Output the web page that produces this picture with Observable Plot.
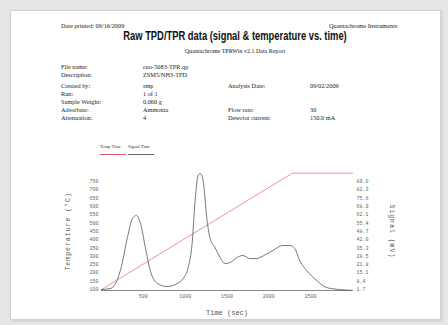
<!DOCTYPE html>
<html>
<head>
<meta charset="utf-8">
<script src="https://cdn.jsdelivr.net/npm/d3@7"></script>
<script src="https://cdn.jsdelivr.net/npm/@observablehq/plot@0.6"></script>
<style>
  html, body { margin: 0; padding: 0; background: #e7e7e7; }
  #page {
    position: absolute; left: 10px; top: 10px; width: 429px; height: 308px;
    background: #fff; border: 1px solid #d2d2d2; box-shadow: 1px 1px 3px rgba(0,0,0,0.12);
  }
  .t { position: absolute; white-space: nowrap; font-family: "Liberation Serif", serif; color: #222; }
  .small { font-size: 6.3px; }
  #title { font-family: "Liberation Sans", sans-serif; font-weight: bold;
           font-size: 12.5px; color: #111; left: 0; width: 470px; text-align: center; top: 29px;
           transform: scaleX(0.75); transform-origin: 235px 0; }
  #subtitle { font-size: 6px; left: 0; width: 470px; text-align: center; top: 48px; }
  #chart { position: absolute; left: 40px; top: 165px; }
</style>
</head>
<body>
<div id="page"></div>
<div id="texts"></div>
<div id="chart"></div>
<script>
// Report header
const printed = "Date printed: 09/16/2009";
const vendor = "Quantachrome Instruments";
const titleText = "Raw TPD/TPR data (signal & temperature vs. time)";
const subtitleText = "Quantachrome TPRWin v2.1 Data Report";

// Sample information block
const infoLabels = ["File name:", "Description:", "Created by:", "Run:", "Sample Weight:", "Adsorbate:", "Attenuation:"];
const infoValues = ["cuo-5083-TPR.qp", "ZSM5/NH3-TPD", "smp", "1 of 1", "0.060 g", "Ammonia", "4"];
const infoRows = [67, 75, 86, 94, 102, 110, 118];
const sideLabels = ["Analysis Date:", "Flow rate:", "Detector current:"];
const sideValues = ["09/02/2009", "30", "150.0 mA"];
const sideRows = [86, 110, 118];

// Legend entries
const legendNames = ["Temp Time", "Signal Time"];
const legendColors = ["#e0566a", "#666"];

// Time axis (s)
const xTicks = [500, 1000, 1500, 2000, 2500];

// Temperature program (°C)
const tempTime = [0, 2280, 3000];
const tempValue = [100, 800, 800];
const leftTicks = [100, 150, 200, 250, 300, 350, 400, 450, 500, 550, 600, 650, 700, 750];

// Detector signal (mV)
const sigTime = [0, 107, 226, 310, 369, 417, 464, 524, 583, 667, 786, 905, 976, 1036, 1083, 1119, 1155, 1179,
                 1214, 1262, 1298, 1357, 1417, 1476, 1536, 1619, 1690, 1774, 1857, 1893, 2048, 2167, 2250, 2310,
                 2369, 2452, 2571, 2690, 2845, 3000];
const sigValue = [1.7, 2.5, 17.1, 43.7, 59.1, 61.5, 55.8, 35.6, 17.1, 6.5, 4.1, 6.5, 10.6, 19.5, 38.9, 73.6, 93.8, 95.4,
                  89.8, 57.5, 42.9, 35.6, 27.6, 22.7, 23.5, 27.6, 29.2, 26.7, 26.7, 27.6, 33.2, 37.3, 37.3, 34.8,
                  25.1, 17.1, 9.0, 3.3, 1.7, 1.0];
const rightLabels = ["1.7", "8.4", "15.1", "21.8", "28.5", "35.3", "42.0", "48.7", "55.4", "62.1", "68.9", "75.6", "82.3", "89.0"];

// ---- header text ----
const texts = document.getElementById("texts");
function put(str, x, y, cls, extra) {
  const d = document.createElement("div");
  d.className = "t " + (cls || "");
  d.textContent = str;
  d.style.left = x + "px";
  d.style.top = y + "px";
  if (extra) Object.assign(d.style, extra);
  texts.appendChild(d);
  return d;
}
put(printed, 61, 22, "small");
put(vendor, 329, 22, "small");
const tt = put(titleText, 0, 29, ""); tt.id = "title";
const st = put(subtitleText, 0, 48, ""); st.id = "subtitle";
infoLabels.forEach((s, i) => put(s, 61, infoRows[i] - 4, "small"));
infoValues.forEach((s, i) => put(s, 143, infoRows[i] - 4, "small"));
sideLabels.forEach((s, i) => put(s, 228, sideRows[i] - 4, "small"));
sideValues.forEach((s, i) => put(s, 310, sideRows[i] - 4, "small"));

// legend: name over a short coloured stroke
legendNames.forEach((s, i) => {
  const x = 100 + i * 28;
  put(s, x, 144, "", { fontSize: "4.6px", color: "#333" });
  const line = document.createElement("div");
  Object.assign(line.style, { position: "absolute", left: x + "px", top: "154px", width: "26px", height: "1px", background: legendColors[i] });
  texts.appendChild(line);
});

// ---- chart ----
// signal is drawn on the temperature scale; the right axis relabels the same positions in mV
const sigLo = 1.7, sigHi = 89.0;
const toTempUnits = v => 100 + (v - sigLo) * (650 / (sigHi - sigLo));

const tempData = tempTime.map((t, i) => ({ t, v: tempValue[i] }));
const sigData = sigTime.map((t, i) => ({ t, v: toTempUnits(sigValue[i]) }));

const chart = Plot.plot({
  width: 370,
  height: 155,
  marginLeft: 61,
  marginRight: 58,
  marginTop: 7.7,
  marginBottom: 31,
  x: { domain: [0, 3000] },
  y: { domain: [100, 800] },
  style: { fontFamily: "Liberation Mono, monospace", fontSize: "5px", color: "#666", background: "transparent", overflow: "visible" },
  marks: [
    Plot.ruleY([100], { stroke: "#888", strokeWidth: 1, dy: 1 }),
    Plot.axisX(xTicks, { tickSize: 0, tickPadding: 5, tickFormat: d => String(d), label: null }),
    Plot.axisY(leftTicks, { anchor: "left", tickSize: 0, tickPadding: 3, tickFormat: d => String(d), label: null }),
    Plot.axisY(leftTicks, { anchor: "right", tickSize: 0, tickPadding: 4, tickFormat: (d, i) => rightLabels[i], label: null }),
    Plot.line(tempData, { x: "t", y: "v", stroke: "#e0566a", strokeWidth: 0.8, strokeOpacity: 0.8 }),
    Plot.line(sigData, { x: "t", y: "v", stroke: "#555", strokeWidth: 0.8, curve: "monotone-x" }),
    Plot.text(["Time (sec)"], { frameAnchor: "bottom", dy: 25, fontSize: 7, fill: "#555" }),
    Plot.text(["Temperature (°C)"], { x: 0, y: 450, dx: -34, rotate: -90, fontSize: 6.5, fill: "#555" }),
    Plot.text(["Signal (mV)"], { x: 3000, y: 450, dx: 40, rotate: 90, fontSize: 6.5, fill: "#555" })
  ]
});
chart.querySelectorAll("text").forEach(n => { if (n.textContent === "Temperature (°C)" || n.textContent === "Signal (mV)") n.style.letterSpacing = "1px"; });
document.getElementById("chart").appendChild(chart);
</script>
</body>
</html>
